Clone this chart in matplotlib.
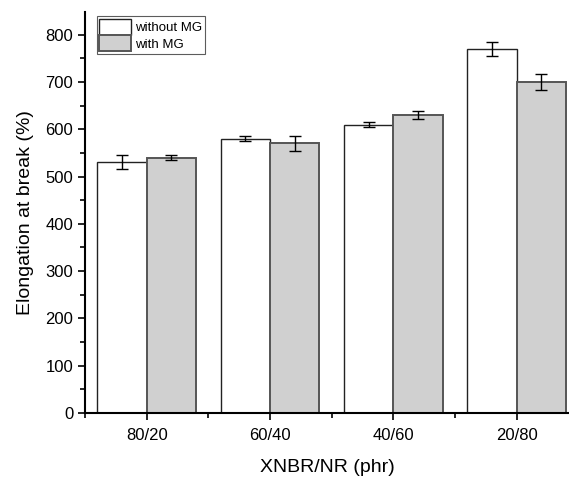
import numpy as np
import matplotlib
matplotlib.use("Agg")
import matplotlib.pyplot as plt
from matplotlib.ticker import MultipleLocator

plt.rcParams['font.family'] = ['Liberation Sans', 'DejaVu Sans']

categories = ["80/20", "60/40", "40/60", "20/80"]
without_mg = [530, 580, 610, 770]
without_mg_err = [15, 5, 5, 15]
with_mg = [540, 570, 630, 700]
with_mg_err = [5, 15, 9, 17]

x = np.arange(len(categories))
w = 0.4

fig = plt.figure(figsize=(5.69, 4.78), dpi=100)
ax = fig.add_axes([0.1494, 0.136, 0.8506, 0.839])

ax.bar(x - w / 2, without_mg, w, color="white", edgecolor="#222222", linewidth=1.0,
       yerr=without_mg_err, capsize=4, error_kw=dict(elinewidth=1.0, capthick=1.0, ecolor="black"),
       label="without MG")
ax.bar(x + w / 2, with_mg, w, color="#d0d0d0", edgecolor="#555555", linewidth=1.4,
       yerr=with_mg_err, capsize=4, error_kw=dict(elinewidth=1.0, capthick=1.0, ecolor="black"),
       label="with MG")

ax.set_xlim(-0.5, 3.425)
ax.set_ylim(0, 848)
ax.set_xticks(x)
ax.set_xticklabels(categories)
ax.set_xticks(np.arange(-0.5, 3.5, 1), minor=True)
ax.yaxis.set_major_locator(MultipleLocator(100))
ax.yaxis.set_minor_locator(MultipleLocator(50))

for s in ["top", "right"]:
    ax.spines[s].set_visible(False)
for s in ["left", "bottom"]:
    ax.spines[s].set_linewidth(1.5)

ax.tick_params(axis="both", which="major", direction="out", length=5, width=1.2, labelsize=12)
ax.tick_params(axis="both", which="minor", direction="out", length=3.5, width=1.2)
ax.tick_params(axis="x", which="major", pad=6)

ax.set_xlabel("XNBR/NR (phr)", fontsize=14, labelpad=11)
ax.set_ylabel("Elongation at break (%)", fontsize=14, labelpad=8)

leg = ax.legend(loc="upper left", bbox_to_anchor=(0.016, 1.0), fontsize=9.5, frameon=True,
                fancybox=False, edgecolor="#333333", handlelength=2.4, handleheight=1.5,
                handletextpad=0.3, borderpad=0.2, labelspacing=0.05, borderaxespad=0.3)
leg.get_frame().set_linewidth(0.8)

fig.savefig("out.png", dpi=100)
